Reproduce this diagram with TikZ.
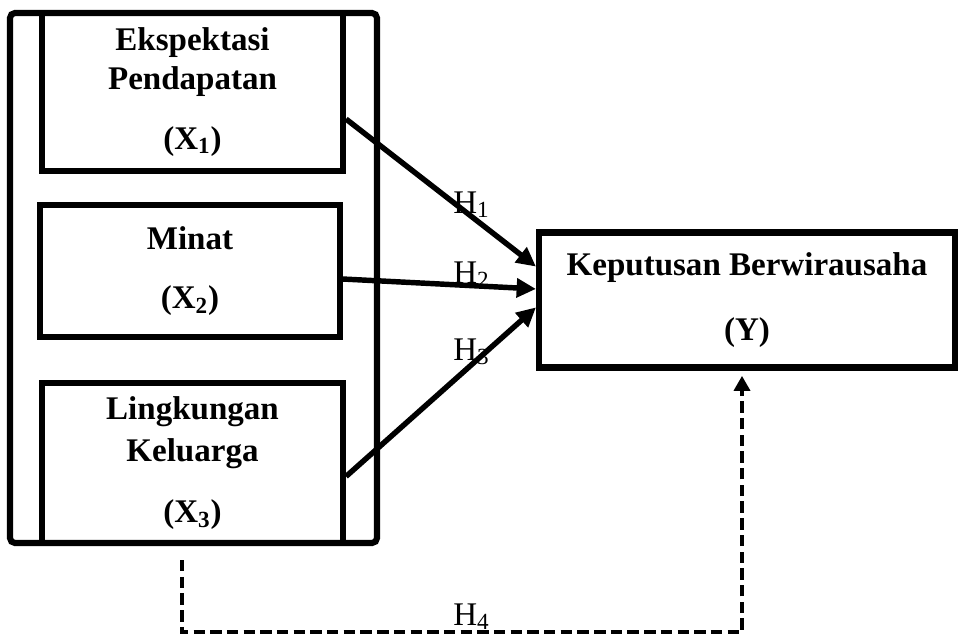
\documentclass[tikz,border=0pt]{standalone}
\usepackage{fontspec}
\setmainfont{Liberation Serif}
\usetikzlibrary{arrows.meta}

\begin{document}
\begin{tikzpicture}[x=0.02cm,y=-0.02cm,
  box/.style={draw, line width=3.5pt, align=center, inner sep=0pt,
    font=\bfseries\fontsize{18.8}{21}\selectfont},
  hyp/.style={-{Triangle[length=11pt,width=10.5pt]}, line width=3.1pt},
  hyplabel/.style={anchor=base west, inner sep=0pt, font=\fontsize{18.8}{21}\selectfont},
  dashline/.style={-{Triangle[length=8.5pt,width=9pt]}, line width=2.2pt, dash pattern=on 6.5pt off 3pt}]

\useasboundingbox (0,0) rectangle (962,635);

% Frame round the X boxes
\draw[line width=3.5pt, rounded corners=0.1cm] (10,13) rectangle (377,543);

% Boxes
\node[box, minimum width=6.02cm, minimum height=3.16cm] (X1) at (192.5,92)
  {Ekspektasi\\[1pt]Pendapatan\\[13pt](X\textsubscript{1})};
\node[box, minimum width=6.00cm, minimum height=2.64cm] (X2) at (190,271)
  {Minat\\[13pt](X\textsubscript{2})};
\node[box, minimum width=6.02cm, minimum height=3.20cm] (X3) at (192.5,463)
  {Lingkungan\\[3pt]Keluarga\\[14pt](X\textsubscript{3})};
\node[box, minimum width=8.32cm, minimum height=2.70cm] (Y) at (747,300)
  {Keputusan Berwirausaha\\[16pt](Y)};

% Hypotheses
\draw[hyp] (X1.-10) -- (Y.171);
\draw[hyp] (X2.-3) -- (Y.177);
\draw[hyp] (X3.-5) -- (Y.182);

\coordinate (h4) at (742,632);
\draw[dashline, shorten >=3pt] ([xshift=-0.21cm,yshift=-0.28cm]X3.south) |- (h4) -- (h4 |- Y.south);

% Labels
\node[hyplabel] (h1) at (453,213) {H\textsubscript{1}};
\node[hyplabel] (h2) at (453,283) {H\textsubscript{2}};
\node[hyplabel] (h3) at (453,360) {H\textsubscript{3}};
\node[hyplabel] (h4l) at (453,625) {H\textsubscript{4}};

\end{tikzpicture}
\end{document}
